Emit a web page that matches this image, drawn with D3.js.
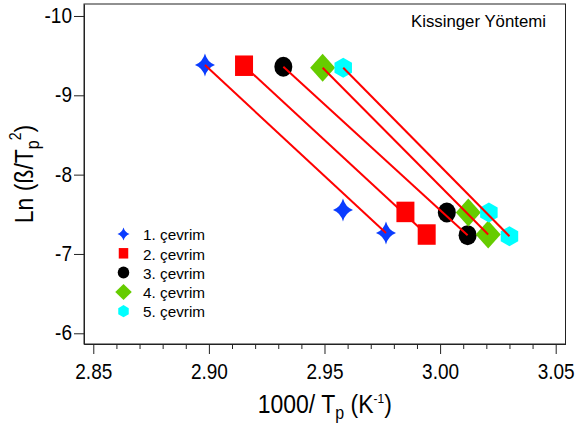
<!DOCTYPE html>
<html>
<head>
<meta charset="utf-8">
<script src="https://cdn.jsdelivr.net/npm/d3@7"></script>
<style>
  html, body { margin: 0; padding: 0; background: #fff; }
  svg { display: block; font-family: "Liberation Sans", Arial, sans-serif; }
</style>
</head>
<body>
<svg id="chart" width="576" height="427"></svg>
<script>
// ---- data ----
const seriesNames = ["1. çevrim", "2. çevrim", "3. çevrim", "4. çevrim", "5. çevrim"];
const seriesColors = ["#0a3cff", "#ff0000", "#000000", "#66cc00", "#00ffff"];
const seriesShapes = ["star", "square", "circle", "diamond", "hexagon"];
const xValues = [
  [2.8983, 2.9580, 2.9766],
  [2.9152, 2.9850, 2.9942],
  [2.9322, 3.0029, 3.0119],
  [2.9492, 3.0122, 3.0208],
  [2.9581, 3.0211, 3.0300]
];
const yValues = [
  [-9.382, -7.554, -7.264],
  [-9.373, -7.530, -7.245],
  [-9.360, -7.523, -7.237],
  [-9.348, -7.523, -7.245],
  [-9.348, -7.523, -7.224]
];
const xTicks = [2.85, 2.90, 2.95, 3.00, 3.05];
const xMinorTicks = d3.range(2.85, 3.0501, 0.01).map(v => +v.toFixed(2));
const yTicks = [-10, -9, -8, -7, -6];

// ---- layout ----
const svg = d3.select("#chart");
const L = 84, R = 565.5, T = 4, B = 344;
const x = d3.scaleLinear().domain([2.84598, 3.05424]).range([L, R]);
const y = d3.scaleLinear().domain([-10.151, -5.865]).range([T, B]);
const axisColor = "#222";
const hyphenFmt = d3.formatLocale({decimal: ".", thousands: ",", grouping: [3], currency: ["", ""], minus: "-"});

// marker shapes (w = width, h = height)
function markerPath(type, w, h) {
  const rx = w / 2, ry = h / 2;
  if (type === "circle") {
    return `M${-rx},0A${rx},${ry} 0 1,0 ${rx},0A${rx},${ry} 0 1,0 ${-rx},0Z`;
  }
  const p = d3.path();
  if (type === "star") {
    const c = 0.24;
    p.moveTo(0, -ry);
    p.quadraticCurveTo(rx * c, -ry * c, rx, 0);
    p.quadraticCurveTo(rx * c, ry * c, 0, ry);
    p.quadraticCurveTo(-rx * c, ry * c, -rx, 0);
    p.quadraticCurveTo(-rx * c, -ry * c, 0, -ry);
    p.closePath();
  } else if (type === "square") {
    p.rect(-rx, -ry, w, h);
  } else if (type === "diamond") {
    p.moveTo(0, -ry); p.lineTo(rx, 0); p.lineTo(0, ry); p.lineTo(-rx, 0); p.closePath();
  } else if (type === "hexagon") {
    p.moveTo(0, -ry); p.lineTo(rx, -ry / 2); p.lineTo(rx, ry / 2);
    p.lineTo(0, ry); p.lineTo(-rx, ry / 2); p.lineTo(-rx, -ry / 2); p.closePath();
  }
  return p.toString();
}
const mainSize = {star: [20, 23], square: [18, 20.5], circle: [18, 20], diamond: [25, 28], hexagon: [17.5, 20]};
const legSize = {star: [12, 13], square: [9.5, 10.5], circle: [11.5, 12], diamond: [16.5, 16], hexagon: [10.5, 12.3]};

// ---- frame ----
svg.append("rect").attr("x", L).attr("y", T).attr("width", R - L).attr("height", B - T)
  .attr("fill", "none").attr("stroke", axisColor).attr("stroke-width", 1);

// ---- axes ----
const gx = svg.append("g").attr("transform", `translate(0,${B})`)
  .call(d3.axisBottom(x).tickValues(xTicks).tickSize(10).tickSizeOuter(0).tickFormat(hyphenFmt.format(".2f")));
const gxm = svg.append("g").attr("transform", `translate(0,${B})`)
  .call(d3.axisBottom(x).tickValues(xMinorTicks.filter(v => !xTicks.some(t => Math.abs(t - v) < 1e-9))).tickSize(5).tickSizeOuter(0).tickFormat(""));
const gy = svg.append("g").attr("transform", `translate(${L},0)`)
  .call(d3.axisLeft(y).tickValues(yTicks).tickSize(10).tickSizeOuter(0).tickFormat(hyphenFmt.format("d")));

[gx, gxm, gy].forEach(g => {
  g.select(".domain").attr("stroke", axisColor);
  g.selectAll(".tick line").attr("stroke", axisColor);
});
gx.selectAll(".tick text")
  .attr("y", null).attr("dy", null)
  .attr("transform", "translate(0,35) scale(1,1.15)")
  .attr("fill", "#000").style("font-size", "19px")
  .style("font-family", "'Liberation Sans', Arial, sans-serif");
gy.selectAll(".tick text")
  .attr("x", null).attr("dy", null)
  .attr("transform", "translate(-12,6.6) scale(1,1.15)")
  .attr("fill", "#000").style("font-size", "19px")
  .style("font-family", "'Liberation Sans', Arial, sans-serif");

// ---- markers ----
const plot = svg.append("g");
seriesNames.forEach((name, i) => {
  const pts = xValues[i].map((xv, j) => [xv, yValues[i][j]]);
  const [w, h] = mainSize[seriesShapes[i]];
  plot.append("g").selectAll("path").data(pts).join("path")
    .attr("transform", d => `translate(${x(d[0])},${y(d[1])})`)
    .attr("d", markerPath(seriesShapes[i], w, h))
    .attr("fill", seriesColors[i]);
});
// ---- fit lines (first to last point) ----
seriesNames.forEach((name, i) => {
  const n = xValues[i].length;
  const pts = [[xValues[i][0], yValues[i][0]], [xValues[i][n - 1], yValues[i][n - 1]]];
  plot.append("path")
    .attr("d", d3.line().x(d => x(d[0])).y(d => y(d[1]))(pts))
    .attr("stroke", "#ff0000").attr("stroke-width", 2).attr("fill", "none");
});

// ---- legend ----
const leg = svg.append("g");
seriesNames.forEach((name, i) => {
  const yy = 234 + i * 19.3;
  const [w, h] = legSize[seriesShapes[i]];
  leg.append("path").attr("transform", `translate(123.5,${yy})`)
    .attr("d", markerPath(seriesShapes[i], w, h)).attr("fill", seriesColors[i]);
  leg.append("text").attr("x", 143).attr("y", yy + 6.2)
    .style("font-size", "15.3px").attr("fill", "#000").text(name);
});

// ---- annotation ----
svg.append("text").attr("x", 411).attr("y", 27).style("font-size", "16.8px").attr("fill", "#000")
  .text("Kissinger Yöntemi");

// ---- axis titles ----
const xt = svg.append("text").attr("text-anchor", "middle")
  .attr("transform", `translate(${(L + R) / 2},413) scale(1,1.12)`)
  .style("font-size", "23px").attr("fill", "#000");
xt.append("tspan").text("1000/ T");
xt.append("tspan").attr("dy", 5).style("font-size", "16px").text("p");
xt.append("tspan").attr("dy", -5).text(" (K");
xt.append("tspan").attr("dy", -9).style("font-size", "12px").text("-1");
xt.append("tspan").attr("dy", 9).text(")");

const yt = svg.append("text").attr("text-anchor", "middle")
  .attr("transform", `translate(33,${(T + B) / 2}) rotate(-90) scale(1,1.12)`)
  .style("font-size", "23px").attr("fill", "#000");
yt.append("tspan").text("Ln (ß/T");
yt.append("tspan").attr("dy", 5).style("font-size", "16px").text("p");
yt.append("tspan").attr("dy", -16).style("font-size", "14px").text("2");
yt.append("tspan").attr("dy", 11).text(")");
</script>
</body>
</html>
